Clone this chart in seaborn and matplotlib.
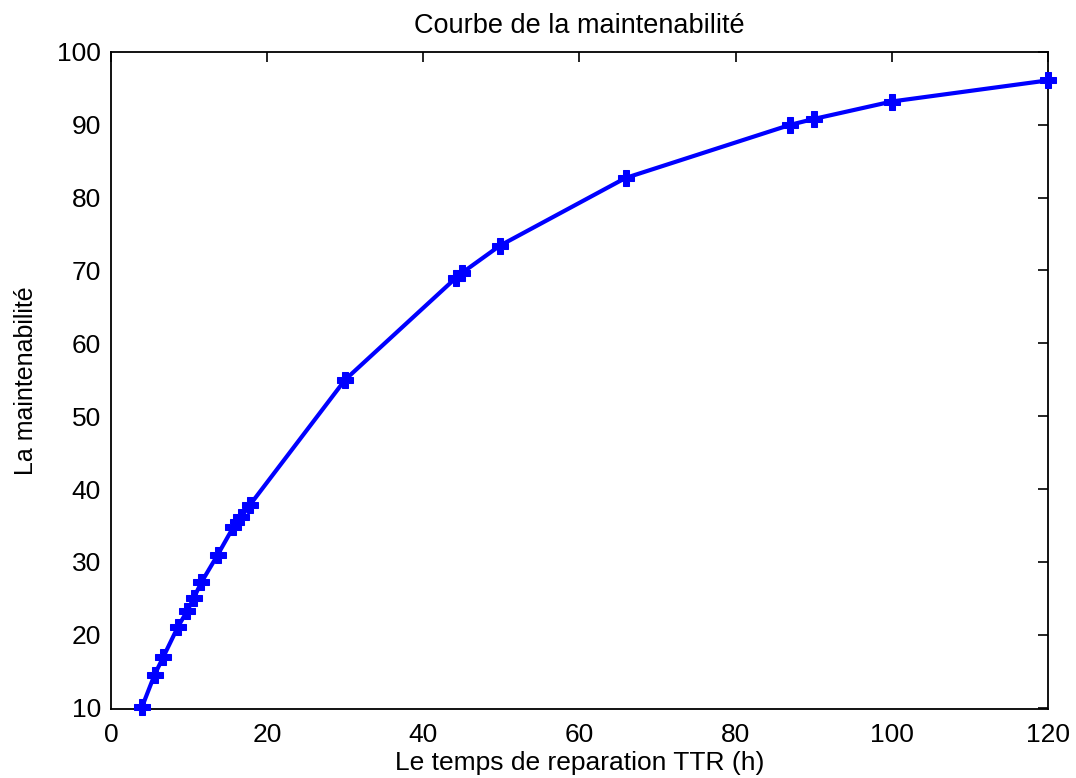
"""Courbe de la maintenabilité M(t) en fonction du temps de réparation."""

import matplotlib
matplotlib.use("Agg")
import matplotlib.pyplot as plt
import pandas as pd
import seaborn as sns

# temps de réparation TTR (h) et maintenabilité (%)
ttr = [4, 5.6, 6.7, 8.6, 9.8, 10.6, 11.6, 13.7, 15.7, 16.7, 17.8,
       30, 44.2, 45, 49.8, 65.9, 87, 90, 100, 120]
maintenabilite = [10.1, 14.5, 16.9, 21.1, 23.3, 25.0, 27.2, 31.0, 34.8, 36.2, 37.8,
                  55.0, 69.0, 69.7, 73.4, 82.7, 90.0, 90.8, 93.2, 96.1]

x_ticks = [0, 20, 40, 60, 80, 100, 120]
y_ticks = [10, 20, 30, 40, 50, 60, 70, 80, 90, 100]

sns.set_style("white")
plt.rcParams["font.family"] = ["Liberation Sans", "DejaVu Sans"]
plt.rcParams["text.color"] = "black"
plt.rcParams["axes.labelcolor"] = "black"

df = pd.DataFrame({"ttr": ttr, "m": maintenabilite})

fig = plt.figure(figsize=(10.76, 7.78), dpi=100)
ax = fig.add_axes([0.103, 0.0887, 0.871, 0.8445])

sns.lineplot(data=df, x="ttr", y="m", ax=ax, color="#0000ff", linewidth=3,
             marker="P", markersize=12, markeredgecolor="#0000ff",
             markerfacecolor="#0000ff", sort=False, clip_on=False, zorder=5)

ax.set_xlim(0, 120)
ax.set_ylim(9.8, 100)
ax.set_xticks(x_ticks)
ax.set_yticks(y_ticks)
ax.tick_params(direction="in", length=7, width=1.2, top=True, right=True,
               labelsize=19, colors="black")
ax.tick_params(axis="x", pad=10)
ax.tick_params(axis="y", pad=7)
for s in ax.spines.values():
    s.set_visible(True)
    s.set_color("black")
    s.set_linewidth(1.3)

ax.set_title("Courbe de la maintenabilité", fontsize=19.5, pad=14, color="black")
ax.set_xlabel("Le temps de reparation TTR (h)", fontsize=19, labelpad=3)
ax.set_ylabel("La maintenabilité", fontsize=18, labelpad=14)

fig.savefig("out.png", dpi=100)
